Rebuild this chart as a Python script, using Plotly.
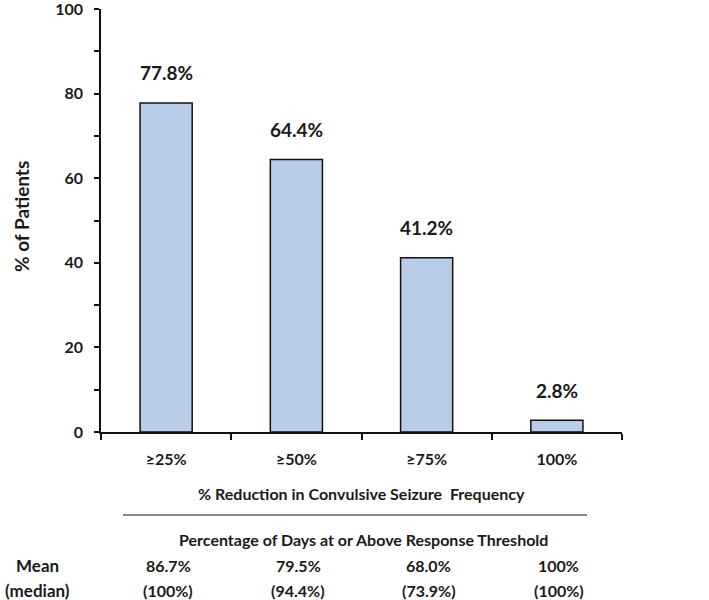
import plotly.graph_objects as go

categories = ["≥25%", "≥50%", "≥75%", "100%"]
pct_patients = [77.8, 64.4, 41.2, 2.8]
bar_labels = ["77.8%", "64.4%", "41.2%", "2.8%"]
mean_days = ["86.7%", "79.5%", "68.0%", "100%"]
median_days = ["(100%)", "(94.4%)", "(73.9%)", "(100%)"]
y_ticks = [0, 20, 40, 60, 80, 100]

FONT = "Lato, Carlito, Calibri, Arial, sans-serif"
W, H = 709, 600
L, R, T, B = 101, 87, 9, 168
PH = H - T - B

def py(pix):
    return 1 - (pix - T) / PH

def px(pix):
    return (pix - L) / (W - L - R)

fig = go.Figure()
fig.add_trace(go.Bar(
    x=categories, y=pct_patients, width=0.4,
    marker=dict(color="#b9cde9", line=dict(color="#111111", width=1.5)),
    hoverinfo="skip",
))

TXT = dict(size=16, color="#1a1a1a", family=FONT)
ann = []
for c, v, t in zip(categories, pct_patients, bar_labels):
    ann.append(dict(x=c, y=v, xref="x", yref="y", text=f"<b>{t}</b>", showarrow=False,
                    yanchor="middle", yshift=30, font=dict(size=19, color="#1a1a1a", family=FONT)))

ann.append(dict(x=0.5, y=py(493), xref="paper", yref="paper", showarrow=False,
                xanchor="center", yanchor="middle",
                text="<b>% Reduction in Convulsive Seizure  Frequency</b>", font=TXT))
ann.append(dict(x=px(363), y=py(539), xref="paper", yref="paper", showarrow=False,
                xanchor="center", yanchor="middle",
                text="<b>Percentage of Days at or Above Response Threshold</b>", font=TXT))
ann.append(dict(x=px(37), y=py(565), xref="paper", yref="paper", showarrow=False,
                xanchor="center", yanchor="middle", text="<b>Mean</b>",
                font=dict(size=17, color="#1a1a1a", family=FONT)))
ann.append(dict(x=px(37), y=py(590), xref="paper", yref="paper", showarrow=False,
                xanchor="center", yanchor="middle", text="<b>(median)</b>",
                font=dict(size=17, color="#1a1a1a", family=FONT)))
for c, m, md in zip(categories, mean_days, median_days):
    ann.append(dict(x=c, y=py(565), xref="x", yref="paper", showarrow=False, xshift=2,
                    xanchor="center", yanchor="middle", text=f"<b>{m}</b>", font=TXT))
    ann.append(dict(x=c, y=py(590), xref="x", yref="paper", showarrow=False, xshift=2,
                    xanchor="center", yanchor="middle", text=f"<b>{md}</b>", font=TXT))

ann.append(dict(x=px(21), y=py(217), xref="paper", yref="paper", showarrow=False, textangle=-90,
                xanchor="center", yanchor="middle", text="<b>% of Patients</b>",
                font=dict(size=19, color="#1a1a1a", family=FONT)))

fig.update_layout(
    width=W, height=H,
    margin=dict(l=L, r=R, t=T, b=B, autoexpand=False),
    paper_bgcolor="white", plot_bgcolor="white",
    showlegend=False,
    annotations=ann,
    shapes=[dict(type="line", xref="paper", yref="paper",
                 x0=px(123), x1=px(587), y0=py(515), y1=py(515),
                 line=dict(color="#111111", width=1.2))],
    xaxis=dict(type="category", range=[-0.5, 3.5], showline=True, linecolor="#111111", linewidth=1.5,
               ticks="outside", tickson="boundaries", ticklen=6, tickcolor="#111111", tickwidth=1.5,
               showgrid=False, ticklabelstandoff=12, automargin=False,
               tickfont=dict(size=16, color="#1a1a1a", family=FONT)),
    yaxis=dict(range=[0, 100.01], showline=True, linecolor="#111111", linewidth=1.5,
               tickvals=y_ticks, ticktext=[f"<b>{v}</b>" for v in y_ticks],
               ticks="outside", ticklen=5, tickcolor="#111111", tickwidth=1.5,
               minor=dict(dtick=10, ticks="outside", ticklen=5, tickcolor="#111111", tickwidth=1.5),
               showgrid=False, zeroline=False, ticklabelstandoff=8, automargin=False,
               ticklabeloverflow="allow",
               tickfont=dict(size=16, color="#1a1a1a", family=FONT)),
)
fig.update_xaxes(ticktext=[f"<b>{c}</b>" for c in categories], tickvals=categories)

fig.write_html("out.html", config={"displayModeBar": False},
               post_script="document.body.style.margin='0';")
